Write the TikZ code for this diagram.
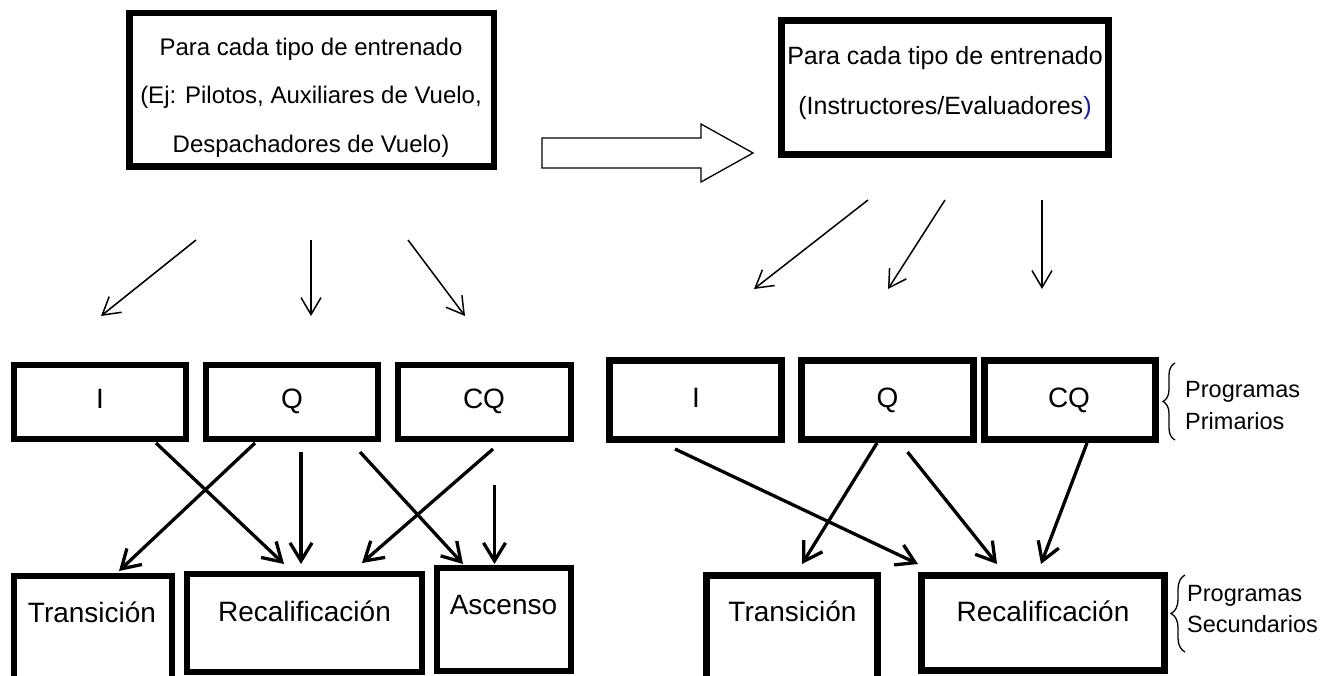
\documentclass[tikz,border=0pt]{standalone}
\usepackage{fontspec}
\setmainfont{Liberation Sans}
\usetikzlibrary{arrows.meta,calc,decorations.pathreplacing}
\definecolor{navyblue}{RGB}{30,30,150}
\newcommand\fsz[1]{\fontsize{#1}{#1}\selectfont}
\begin{document}
\begin{tikzpicture}[x=1pt,y=-1pt,
  box/.style={draw, line width=#1, inner sep=0pt, outer sep=0pt},
  txt/.style={inner sep=0pt, anchor=base},
  lbl/.style={inner sep=0pt, anchor=base west, font=\fsz{23.5}},
  thinarr/.style={line width=1.5pt, -{Straight Barb[length=17pt,width=20pt]}},
  thickarr/.style={line width=3.3pt, -{Straight Barb[length=18pt,width=22pt]}},
  bracestyle/.style={line width=1.3pt, decorate}]
\useasboundingbox (0,0) rectangle (1322,676);
\fill[white] (0,0) rectangle (1322,676);

% top boxes
\node[box=6.5pt, minimum width=364.5pt, minimum height=153.5pt] (tl) at (311.5,90) {};
\node[box=7pt, minimum width=327pt, minimum height=134pt] (tr) at (945,87.5) {};
\node[txt, font=\fsz{24}] (tl1) at (311,55.7) {Para cada tipo de entrenado};
\node[txt, font=\fsz{24}] (tl2) at (311,103.3) {(Ej: Pilotos, Auxiliares de Vuelo,};
\node[txt, font=\fsz{24}] (tl3) at (311,152.7) {Despachadores de Vuelo)};
\node[txt, font=\fsz{25}] (tr1) at (945,65) {Para cada tipo de entrenado};
\node[txt, font=\fsz{25}] (tr2) at (945,115) {(Instructores/Evaluadores\textcolor{navyblue}{)}};

% block arrow
\draw[line width=1.3pt, line join=miter] (542,138) -- (701,138) -- (701,124) -- (753,153) -- (701,182) -- (701,168) -- (542,168) -- cycle;

% thin arrows
\coordinate (la1) at (196,240); \coordinate (lb1) at (101,316);
\coordinate (la2) at (311,240); \coordinate (lb2) at (311,316);
\coordinate (la3) at (408,240); \coordinate (lb3) at (465,316);
\coordinate (ra1) at (868,200); \coordinate (rb1) at (754,289);
\coordinate (ra2) at (945,200); \coordinate (rb2) at (888,289);
\coordinate (ra3) at (1042,200); \coordinate (rb3) at (1042,289);
\draw[thinarr] (la1) -- (lb1);
\draw[thinarr] (la2) -- (lb2);
\draw[thinarr] (la3) -- (lb3);
\draw[thinarr] (ra1) -- (rb1);
\draw[thinarr] (ra2) -- (rb2);
\draw[thinarr] (ra3) -- (rb3);

% middle row
\node[box=6pt, minimum width=172pt, minimum height=74pt] (lI) at (99.5,402) {};
\node[box=6pt, minimum width=172pt, minimum height=74pt] (lQ) at (292,402) {};
\node[box=6pt, minimum width=173pt, minimum height=74pt] (lCQ) at (484.5,402) {};
\node[box=7pt, minimum width=172pt, minimum height=79pt] (rI) at (695.5,400) {};
\node[box=7pt, minimum width=172pt, minimum height=79pt] (rQ) at (887.5,400) {};
\node[box=7pt, minimum width=171pt, minimum height=79pt] (rCQ) at (1070,400) {};
\node[txt, font=\fsz{28}] (lIt) at (100,408) {I};
\node[txt, font=\fsz{28}] (lQt) at (292,408) {Q};
\node[txt, font=\fsz{28}] (lCQt) at (484,408) {CQ};
\node[txt, font=\fsz{28}] (rIt) at (696,407) {I};
\node[txt, font=\fsz{28}] (rQt) at (887.5,407) {Q};
\node[txt, font=\fsz{28}] (rCQt) at (1069,407) {CQ};

% bottom row
\node[box=6pt, minimum width=158.5pt, minimum height=144pt] (lTr) at (92.75,648) {};
\node[box=6pt, minimum width=235pt, minimum height=98pt] (lRec) at (304.5,623) {};
\node[box=6pt, minimum width=134.5pt, minimum height=103pt] (lAsc) at (503.75,619.5) {};
\node[box=7pt, minimum width=171pt, minimum height=144.5pt] (rTr) at (792,647.75) {};
\node[box=7pt, minimum width=243pt, minimum height=95pt] (rRec) at (1043,623) {};
\node[txt, font=\fsz{28}] (lTrt) at (92,622.7) {Transición};
\node[txt, font=\fsz{28}] (lRect) at (304.5,621.7) {Recalificación};
\node[txt, font=\fsz{28}] (lAsct) at (503.5,614) {Ascenso};
\node[txt, font=\fsz{28}] (rTrt) at (792.5,621.7) {Transición};
\node[txt, font=\fsz{28}] (rRect) at (1043,621.7) {Recalificación};

% thick arrows left
\coordinate (a6s) at (494.5,485);
\draw[thickarr] ($(lI.south)+(56.5,4)$) -- ($(lRec.north)+(-20.5,-10)$);
\draw[thickarr] ($(lQ.south)+(-37,4)$) -- ($(lTr.north)+(26.25,-5)$);
\draw[thickarr] ($(lQ.south)+(9,13)$) -- ($(lRec.north)+(-3.5,-10)$);
\draw[thickarr] ($(lQ.south)+(68,13)$) -- ($(lAsc.north)+(-40.75,-4)$);
\draw[thickarr] ($(lCQ.south)+(8.5,10)$) -- ($(lRec.north)+(57.5,-11)$);
\draw[thickarr] (a6s) -- ($(lAsc.north)+(-9.25,-4)$);
% thick arrows right
\draw[thickarr] ($(rI.south)+(-20.5,9.5)$) -- ($(rRec.north)+(-125,-11.5)$);
\draw[thickarr] ($(rQ.south)+(-10.5,3.5)$) -- ($(rTr.north)+(10,-11.5)$);
\draw[thickarr] ($(rQ.south)+(20,12.5)$) -- ($(rRec.north)+(-46,-11.5)$);
\draw[thickarr] ($(rCQ.south)+(17,3.5)$) -- ($(rRec.north)+(-2,-11.5)$);

% braces and labels
\draw[bracestyle, decoration={brace, amplitude=12pt}] (1175,440) -- (1175,363);
\draw[bracestyle, decoration={brace, amplitude=14pt}] (1185,652) -- (1185,575);
\node[lbl] (p1) at (1185,397) {Programas};
\node[lbl] (p2) at (1185,429) {Primarios};
\node[lbl] (s1) at (1187,601.7) {Programas};
\node[lbl] (s2) at (1187,632.7) {Secundarios};
\end{tikzpicture}
\end{document}
